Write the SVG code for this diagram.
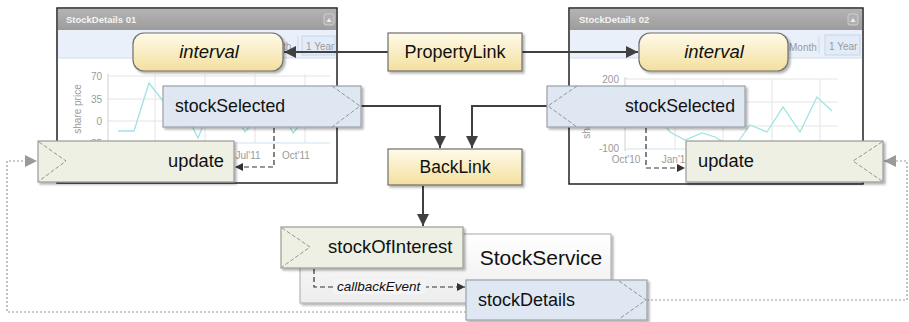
<svg xmlns="http://www.w3.org/2000/svg" width="909" height="322" viewBox="0 0 909 322">
<style>
  .lbl{font-family:"Liberation Sans",Arial,sans-serif;fill:#111;}
  .ax{font-family:"Liberation Sans",Arial,sans-serif;font-size:10px;fill:#9a9a9a;}
  .ttl{font-family:"Liberation Sans",Arial,sans-serif;font-size:9.5px;font-weight:bold;fill:#f4f4f4;}
  .grid{stroke:#e4e4e4;stroke-width:1;fill:none;}
  .series{stroke:#9fe3e6;stroke-width:1.3;fill:none;}
  .conn{stroke:#404040;stroke-width:2;fill:none;}
  .dash{stroke:#333;stroke-width:1.2;fill:none;stroke-dasharray:5,3;}
  .dot{stroke:#9a9a9a;stroke-width:1.2;fill:none;stroke-dasharray:2,2;}
  .chev{stroke:#8a8a8a;stroke-width:0.9;fill:none;stroke-dasharray:4,2;}
  .blue{fill:#dfe8f2;stroke:#9aa0a8;stroke-width:1.2;}
  .green{fill:#eef0e4;stroke:#9a9c96;stroke-width:1.2;}
  .yel{fill:url(#yg);stroke:#6f6f6f;stroke-width:1.2;}
</style>
<defs>
  <linearGradient id="yg" x1="0" y1="0" x2="0" y2="1">
    <stop offset="0" stop-color="#fffbea"/>
    <stop offset="1" stop-color="#f3df9e"/>
  </linearGradient>
  <linearGradient id="sg" x1="0" y1="0" x2="0" y2="1">
    <stop offset="0" stop-color="#ffffff"/>
    <stop offset="1" stop-color="#ececec"/>
  </linearGradient>
  <linearGradient id="tg" x1="0" y1="0" x2="0" y2="1">
    <stop offset="0" stop-color="#b4b4b4"/>
    <stop offset="1" stop-color="#9c9c9c"/>
  </linearGradient>
  <filter id="sh" x="-10%" y="-20%" width="130%" height="150%">
    <feDropShadow dx="2" dy="2" stdDeviation="1.2" flood-color="#000" flood-opacity="0.3"/>
  </filter>
  <marker id="arr" viewBox="0 0 12 12" refX="12" refY="6" markerWidth="12" markerHeight="12" orient="auto" markerUnits="userSpaceOnUse">
    <path d="M0,0 L12,6 L0,12 z" fill="#404040"/>
  </marker>
  <marker id="arrs" viewBox="0 0 8 8" refX="8" refY="4" markerWidth="8" markerHeight="8" orient="auto" markerUnits="userSpaceOnUse">
    <path d="M0,0 L8,4 L0,8 z" fill="#333"/>
  </marker>
  <marker id="arrg" viewBox="0 0 12 12" refX="12" refY="6" markerWidth="12" markerHeight="12" orient="auto" markerUnits="userSpaceOnUse">
    <path d="M0,0 L12,6 L0,12 z" fill="#9a9a9a"/>
  </marker>
</defs>
<rect width="909" height="322" fill="#ffffff"/>

<!-- Widget 1 -->
<g id="widget-stockdetails-01">
  <rect x="57" y="8" width="280" height="175" fill="#fff" stroke="#222" stroke-width="1.5"/>
  <rect x="58" y="9" width="278" height="21" fill="url(#tg)"/>
  <text class="ttl" x="66" y="23">StockDetails 01</text>
  <rect x="324" y="14" width="10" height="11" rx="2" fill="#b0b0b0" stroke="#d8d8d8" stroke-width="0.8"/>
  <path d="M326.5,22 L329,18 L331.5,22 z" fill="#eee"/>
  <rect x="58" y="30" width="278" height="28" fill="#e9f0fa"/>
  <line x1="58" y1="58" x2="336" y2="58" stroke="#cfdcee"/>
  <text class="ax" x="283" y="50">th</text>
  <line x1="298" y1="36" x2="298" y2="54" stroke="#d0d8e4"/>
  <rect x="302" y="36" width="33" height="19" fill="#e2ecf8" stroke="#c5d5ea"/>
  <text class="ax" x="306" y="50">1 Year</text>
  <g>
    <path class="grid" d="M108,76 H330 M108,99 H330 M108,121 H330 M155,74 V143 M205,74 V143 M255,74 V143 M305,74 V143"/>
    <line x1="108" y1="143" x2="330" y2="143" stroke="#cfe3f0"/>
    <line x1="108" y1="74" x2="108" y2="145" stroke="#d0d0d0"/>
    <text class="ax" x="102" y="80" text-anchor="end">70</text>
    <text class="ax" x="102" y="103" text-anchor="end">35</text>
    <text class="ax" x="102" y="125" text-anchor="end">0</text>
    <text class="ax" x="102" y="147" text-anchor="end">-35</text>
    <text class="ax" transform="translate(81,109) rotate(-90)" text-anchor="middle">share price</text>
    <text class="ax" x="248" y="159" text-anchor="middle">Jul'11</text>
    <text class="ax" x="296" y="159" text-anchor="middle">Oct'11</text>
    <polyline class="series" points="118,131 134,131 149,83 170,110 193,128 198,138 203,126 225,112 242,127 245,132 250,126 270,112 290,127 293,133 298,127 315,112"/>
  </g>
</g>

<!-- Widget 2 -->
<g id="widget-stockdetails-02">
  <rect x="569" y="8" width="294" height="176" fill="#fff" stroke="#222" stroke-width="1.5"/>
  <rect x="570" y="9" width="292" height="21" fill="url(#tg)"/>
  <text class="ttl" x="579" y="23">StockDetails 02</text>
  <rect x="848" y="14" width="10" height="11" rx="2" fill="#b0b0b0" stroke="#d8d8d8" stroke-width="0.8"/>
  <path d="M850.5,22 L853,18 L855.5,22 z" fill="#eee"/>
  <rect x="570" y="30" width="292" height="28" fill="#e9f0fa"/>
  <line x1="570" y1="58" x2="862" y2="58" stroke="#cfdcee"/>
  <text class="ax" x="789" y="51">Month</text>
  <line x1="819" y1="36" x2="819" y2="54" stroke="#d0d8e4"/>
  <rect x="825" y="35" width="35" height="20" fill="#e2ecf8" stroke="#c5d5ea"/>
  <text class="ax" x="829" y="50">1 Year</text>
  <g>
    <path class="grid" d="M625,79 H838 M625,102 H838 M625,126 H838 M675,79 V149 M723,79 V149 M772,79 V149 M820,79 V149"/>
    <line x1="625" y1="149" x2="838" y2="149" stroke="#cfe3f0"/>
    <line x1="625" y1="77" x2="625" y2="151" stroke="#d0d0d0"/>
    <text class="ax" x="619" y="83" text-anchor="end">200</text>
    <text class="ax" x="619" y="152" text-anchor="end">-100</text>
    <text class="ax" transform="translate(590,114) rotate(-90)" text-anchor="middle">share price</text>
    <text class="ax" x="626" y="163" text-anchor="middle">Oct'10</text>
    <text class="ax" x="676" y="163" text-anchor="middle">Jan'11</text>
    <polyline class="series" points="665,125 670,132 685,140 702,133 715,137 725,143 738,142 750,125 767,132 783,107 800,132 817,97 832,111"/>
  </g>
</g>

<!-- Connectors -->
<g id="connectors">
  <path class="dot" d="M647,300 H907 V161 H884" marker-end="url(#arrg)"/>
  <path class="dot" d="M466,312 H7 V161 H37" marker-end="url(#arrg)"/>
  <path class="conn" d="M388,52 H284" marker-end="url(#arr)"/>
  <path class="conn" d="M522,52 H638" marker-end="url(#arr)"/>
  <path class="conn" d="M361,106 H440 V148" marker-end="url(#arr)"/>
  <path class="conn" d="M547,106 H472 V148" marker-end="url(#arr)"/>
  <path class="conn" d="M423,186 V226" marker-end="url(#arr)"/>
  <path class="dash" d="M274,128 V167 H235" marker-end="url(#arrs)"/>
  <path class="dash" d="M646,128 V168 H685" marker-end="url(#arrs)"/>
</g>

<!-- Nodes -->
<g id="node-stockservice">
  <rect x="300" y="234" width="311" height="69" fill="url(#sg)" stroke="#a8a8a8" stroke-width="1" filter="url(#sh)"/>
  <text class="lbl" x="541" y="265" font-size="21" text-anchor="middle">StockService</text>
</g>
<g id="connector-callback">
  <path class="dash" d="M314,269 V287 H465" marker-end="url(#arrs)"/>
  <rect x="334" y="279" width="92" height="15" fill="#f4f4f4"/>
  <text class="lbl" x="337" y="291" font-size="13.5" font-style="italic">callbackEvent</text>
</g>
<g id="node-interval-1">
  <rect x="133" y="33" width="150" height="38" rx="11" class="yel" filter="url(#sh)"/>
  <text class="lbl" x="209" y="58" font-size="18.5" font-style="italic" text-anchor="middle">interval</text>
</g>
<g id="node-interval-2">
  <rect x="639" y="33" width="149" height="38" rx="11" class="yel" filter="url(#sh)"/>
  <text class="lbl" x="714" y="58" font-size="18.5" font-style="italic" text-anchor="middle">interval</text>
</g>
<g id="node-propertylink">
  <rect x="388" y="33" width="134" height="38" class="yel" filter="url(#sh)"/>
  <text class="lbl" x="455" y="58" font-size="18" text-anchor="middle">PropertyLink</text>
</g>
<g id="node-backlink">
  <rect x="388" y="149" width="134" height="36" class="yel" filter="url(#sh)"/>
  <text class="lbl" x="455" y="173" font-size="17.5" text-anchor="middle">BackLink</text>
</g>
<g id="node-stockselected-1">
  <rect x="163" y="86" width="198" height="41" class="blue" filter="url(#sh)"/>
  <path class="chev" d="M332,86 L360,106 L332,127"/>
  <text class="lbl" x="175" y="112" font-size="17.7">stockSelected</text>
</g>
<g id="node-stockselected-2">
  <rect x="547" y="86" width="198" height="41" class="blue" filter="url(#sh)"/>
  <path class="chev" d="M577,86 L548,106 L577,127"/>
  <text class="lbl" x="735" y="112" font-size="17.7" text-anchor="end">stockSelected</text>
</g>
<g id="node-update-1">
  <rect x="38" y="141" width="196" height="41" class="green" filter="url(#sh)"/>
  <path class="chev" d="M39,142 L66,161 L39,181"/>
  <text class="lbl" x="224" y="167" font-size="18.3" text-anchor="end">update</text>
</g>
<g id="node-update-2">
  <rect x="686" y="141" width="197" height="41" class="green" filter="url(#sh)"/>
  <path class="chev" d="M882,142 L853,161 L882,181"/>
  <text class="lbl" x="698" y="167" font-size="18.3">update</text>
</g>
<g id="node-stockofinterest">
  <rect x="281" y="227" width="182" height="41" class="green" filter="url(#sh)"/>
  <path class="chev" d="M282,228 L310,247 L282,267"/>
  <text class="lbl" x="328" y="253" font-size="18.5">stockOfInterest</text>
</g>
<g id="node-stockdetails">
  <rect x="466" y="280" width="181" height="40" class="blue" filter="url(#sh)"/>
  <path class="chev" d="M619,281 L646,300 L619,319"/>
  <text class="lbl" x="478" y="306" font-size="18">stockDetails</text>
</g>
</svg>
